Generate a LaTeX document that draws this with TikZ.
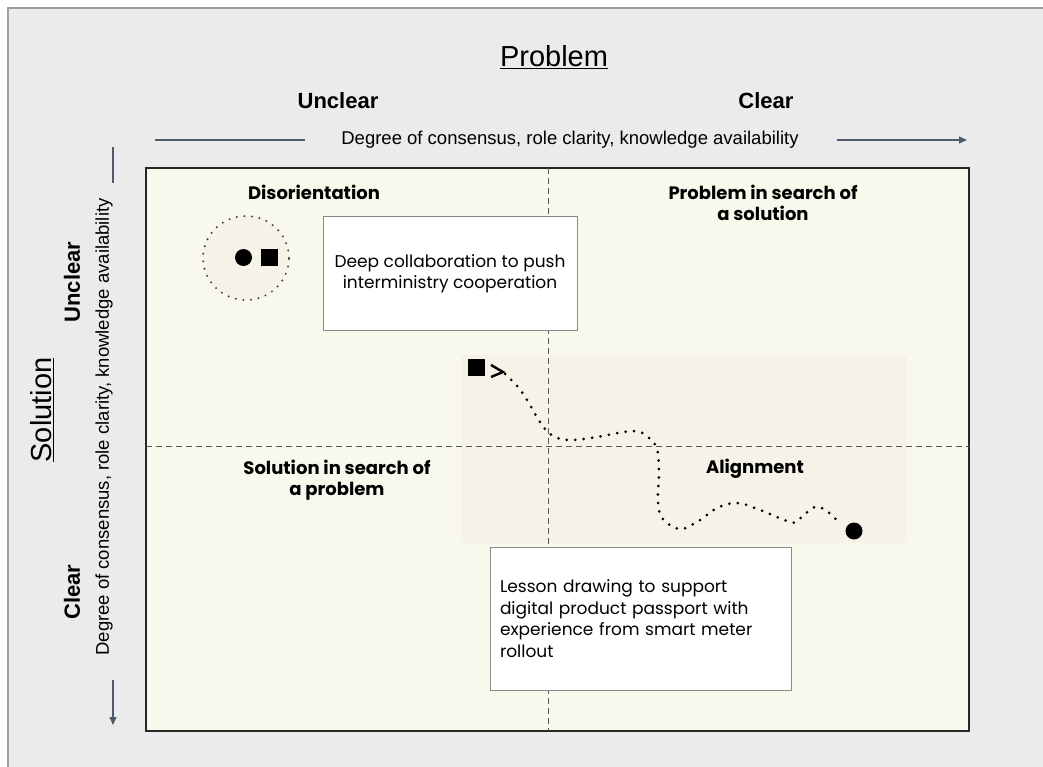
\documentclass[tikz,border=0pt]{standalone}
\usepackage{fontspec}
\setmainfont{Liberation Sans}
\newfontfamily\axisfont{Liberation Sans}
\newfontfamily\labfont{Poppins}
\usetikzlibrary{arrows.meta,shapes.geometric}
\definecolor{framebg}{HTML}{EBEBEB}
\definecolor{frameline}{HTML}{9E9E9E}
\definecolor{boxfill}{HTML}{F9F8EC}
\definecolor{zonefill}{HTML}{F6F2E8}
\definecolor{axiscol}{HTML}{4F5B6B}
\definecolor{boxline}{HTML}{8A8A8A}
\tikzset{
  axistitle/.style={font=\axisfont\fontsize{29}{34}\selectfont},
  axislbl/.style={font=\axisfont\fontsize{22}{26}\selectfont\bfseries},
  axistxt/.style={font=\axisfont\fontsize{18.5}{22}\selectfont},
  axisline/.style={draw=axiscol, line width=1.1pt},
  quadlbl/.style={font=\labfont\fontsize{18}{21}\selectfont\bfseries, align=center},
  notebox/.style={draw=boxline, fill=white, line width=1pt, font=\labfont\fontsize{17}{21.5}\selectfont},
  divider/.style={draw=black!65, dashed, dash pattern=on 6pt off 4pt, line width=0.8pt},
  markdot/.style={circle, fill=black, inner sep=0pt, minimum size=17pt},
  marksq/.style={rectangle, fill=black, inner sep=0pt, minimum size=17pt},
  trail/.style={draw=black, line width=3pt, dash pattern=on 0pt off 8.5pt, line cap=round}
}
\begin{document}
\begin{tikzpicture}[x=1pt,y=-1pt]
\useasboundingbox (0,0) rectangle (1043,767);
\fill[white] (0,0) rectangle (1043,767);
% outer frame
\fill[framebg] (8,8) rectangle (1050,775);
\draw[frameline, line width=1.5pt] (8,775) -- (8,8) -- (1050,8);
% titles
\node[axistitle] (ptitle) at (554,57) {\underline{Problem}};
\node[axislbl] (punclear) at (338,101) {Unclear};
\node[axislbl] (pclear) at (766,101) {Clear};
\node[axistxt] (ptext) at (570,140) {Degree of consensus, role clarity, knowledge availability};
\coordinate (pa1) at (155,140);
\coordinate (pa2) at (305,140);
\coordinate (pa3) at (837,140);
\coordinate (pa4) at (967,140);
\draw[axisline] (pa1) -- (pa2);
\draw[axisline, -{Triangle[length=8pt,width=7pt]}] (pa3) -- (pa4);
% vertical axis
\node[axistitle, rotate=90] (stitle) at (42,410) {\underline{Solution}};
\node[axislbl, rotate=90] (sunclear) at (72,282) {Unclear};
\node[axislbl, rotate=90] (sclear) at (72,592) {Clear};
\node[axistxt, rotate=90] (stext) at (104,427) {Degree of consensus, role clarity, knowledge availability};
\coordinate (sa1) at (113,147);
\coordinate (sa2) at (113,183);
\coordinate (sa3) at (113,680);
\coordinate (sa4) at (113,725);
\draw[axisline] (sa1) -- (sa2);
\draw[axisline, -{Triangle[length=8pt,width=7pt]}] (sa3) -- (sa4);
% main box
\draw[fill=boxfill, line width=1.6pt, draw=black!85] (146,168) rectangle (969,731);
\fill[zonefill] (461,355) rectangle (907,543);
\draw[divider] (548,168) -- (548,731);
\draw[divider] (146,446) -- (969,446);
% quadrant labels
\node[quadlbl] (q1) at (314,192) {Disorientation};
\node[quadlbl] (q2) at (763,203) {Problem in search of\\a solution};
\node[quadlbl] (q3) at (337,480) {Solution in search of\\a problem};
\node[quadlbl] (q4) at (755,469) {Alignment};
% disorientation cluster
\node[ellipse, fill=zonefill, draw=black!75, line width=2.2pt, dash pattern=on 0pt off 7.6pt, line cap=round, minimum width=86pt, minimum height=84pt] (cluster) at (246,258) {};
\node[markdot] (c1) at (243.5,257.5) {};
\node[marksq] (s1) at (269.5,257.5) {};
% note boxes
\node[notebox, minimum width=254pt, minimum height=113pt, align=center] (note1) at (450,273.5) {Deep collaboration to push\\interministry cooperation};
\node[notebox, text width=281pt, inner xsep=10pt, minimum height=143pt, align=left] (note2) at (640.5,618.5) {Lesson drawing to support\\digital product passport with\\experience from smart meter\\rollout};
% trajectory
\node[marksq] (s2) at (476,367) {};
\node[markdot] (c2) at (854,531) {};
\draw[black, line width=2.4pt, line join=miter] (491,365) -- (503,372) -- (491,377);
\draw[trail] plot[smooth, tension=0.6] coordinates {(505,374) (518,387) (527,400) (540,422) (548,432) (557,438) (573,440) (597,437) (633,431) (648,437) (657,449) (659,473) (658,500) (662,518) (680,529) (700,520) (717,508) (737,503) (760,510) (790,522) (798,520) (815,507) (828,512) (840,524)};
\end{tikzpicture}
\end{document}
